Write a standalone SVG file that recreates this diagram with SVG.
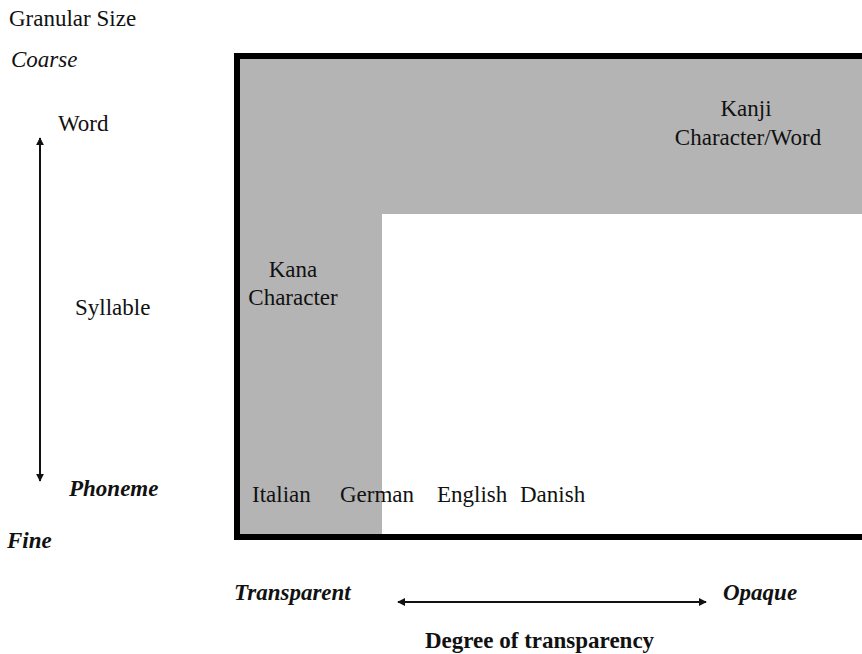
<svg xmlns="http://www.w3.org/2000/svg" width="862" height="654" viewBox="0 0 862 654" font-family="'Liberation Serif', 'Times New Roman', Times, serif">
<style>
text{font-family:'Liberation Serif','Times New Roman',Times,serif;font-size:23px;fill:#111}
.i{font-style:italic}
.bi{font-style:italic;font-weight:bold}
.b{font-weight:bold}
.m{text-anchor:middle}
.ln{stroke:#111;stroke-width:2;fill:none}
</style>
<defs>
<marker id="ah" viewBox="0 0 10 10" refX="9" refY="5" markerWidth="4" markerHeight="4" orient="auto-start-reverse" markerUnits="strokeWidth">
<path d="M0,0 L10,5 L0,10 z" fill="#111"/>
</marker>
</defs>
<rect width="862" height="654" fill="#fff"/>
<g id="frame">
<path d="M240,59 H870 V214 H382 V534 H240 Z" fill="#b4b4b4"/>
<rect x="237" y="56" width="640" height="481" fill="none" stroke="#000" stroke-width="6"/>
</g>
<g id="labels-axis">
<text x="9" y="26">Granular Size</text>
<text x="11" y="67" class="i">Coarse</text>
<text x="58" y="131">Word</text>
<text x="75" y="315">Syllable</text>
<text x="69" y="496" class="bi">Phoneme</text>
<text x="7" y="548" class="bi">Fine</text>
<text x="234" y="600" class="bi">Transparent</text>
<text x="723" y="600" class="bi">Opaque</text>
<text x="425" y="648" class="b">Degree of transparency</text>
</g>
<g id="node-kana"><text x="293" y="277" class="m">Kana</text><text x="293" y="305" class="m">Character</text></g>
<g id="node-kanji"><text x="746" y="116" class="m">Kanji</text><text x="748" y="145" class="m">Character/Word</text></g>
<g id="node-languages">
<text x="252" y="502">Italian</text>
<text x="340" y="502">German</text>
<text x="437" y="502">English</text>
<text x="520" y="502">Danish</text>
</g>
<g id="connectors">
<line class="ln" x1="40" y1="138" x2="40" y2="481" marker-start="url(#ah)" marker-end="url(#ah)"/>
<line class="ln" x1="398" y1="602" x2="706" y2="602" marker-start="url(#ah)" marker-end="url(#ah)"/>
</g>
</svg>
